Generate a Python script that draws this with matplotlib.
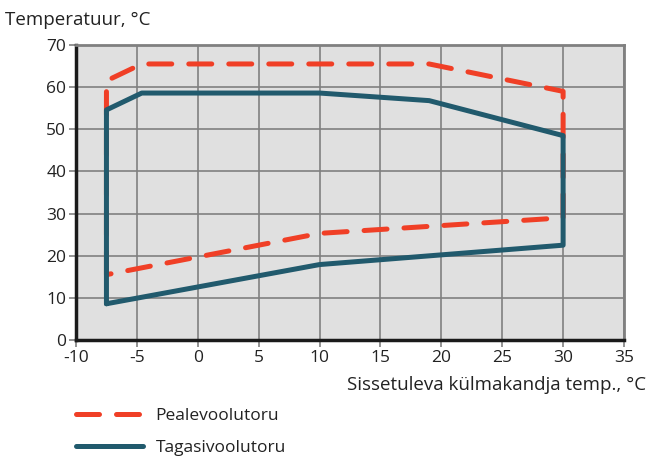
import matplotlib
matplotlib.use("Agg")
import matplotlib.pyplot as plt

plt.rcParams['font.family'] = ['Open Sans', 'DejaVu Sans']

# Supply (Pealevoolutoru) envelope
supply_x = [-7.5, -7.5, -4.6, 19.0, 30.0, 30.0, 10.0, -7.5]
supply_y = [15.5, 61.5, 65.5, 65.5, 59.0, 29.0, 25.3, 15.5]
# Return (Tagasivoolutoru) envelope
return_x = [-7.5, -7.5, -4.6, 10.0, 19.0, 30.0, 30.0, 10.0, -7.5]
return_y = [8.6, 54.6, 58.6, 58.6, 56.8, 48.5, 22.5, 17.9, 8.6]

x_ticks = [-10, -5, 0, 5, 10, 15, 20, 25, 30, 35]
y_ticks = [0, 10, 20, 30, 40, 50, 60, 70]

red = '#f03f26'
blue = '#215a6d'

fig = plt.figure(figsize=(6.49, 4.58), dpi=100)
ax = fig.add_axes([76/649, 1-340/458, (624-76)/649, (340-45)/458])
ax.set_facecolor('#e0e0e0')
ax.set_xlim(-10, 35)
ax.set_ylim(0, 70)
ax.set_xticks(x_ticks)
ax.set_yticks(y_ticks)
ax.set_xticklabels([str(t) for t in x_ticks])
ax.grid(True, color='#808080', linewidth=1.2)
ax.set_axisbelow(True)
ax.tick_params(axis='both', length=5, width=1.2, color='#808080', labelsize=12.5, labelcolor='#222222', pad=2)

for s in ['left', 'bottom']:
    ax.spines[s].set_color('#1a1a1a')
    ax.spines[s].set_linewidth(2.5)
for s in ['top', 'right']:
    ax.spines[s].set_color('#808080')
    ax.spines[s].set_linewidth(2.0)

ax.plot(supply_x, supply_y, color=red, lw=3.6, dashes=(4.6, 3.4),
        dash_capstyle='round', solid_joinstyle='round', label='Pealevoolutoru', clip_on=False)
ax.plot(return_x, return_y, color=blue, lw=3.6, solid_capstyle='round',
        solid_joinstyle='round', label='Tagasivoolutoru', clip_on=False)

fig.text(5/649, 1-20/458, 'Temperatuur, °C', fontsize=13.5, color='#222222', ha='left', va='center')
fig.text(646/649, 1-385/458, 'Sissetuleva külmakandja temp., °C', fontsize=13.5, color='#222222',
         ha='right', va='center')

leg = ax.legend(loc='upper left', bbox_to_anchor=(60/649, 1-392/458), bbox_transform=fig.transFigure,
                frameon=False, fontsize=12.5, handlelength=3.9, handletextpad=0.7, labelspacing=0.92)
for t in leg.get_texts():
    t.set_color('#222222')

fig.savefig('out.png', dpi=100)
